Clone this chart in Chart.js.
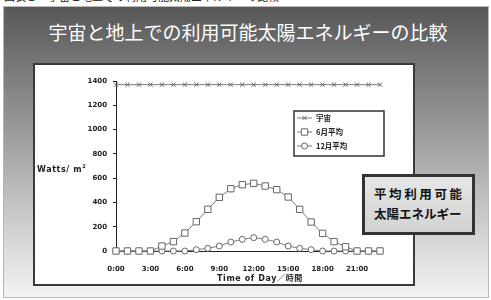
<!DOCTYPE html>
<html>
<head>
<meta charset="utf-8">
<script src="https://cdn.jsdelivr.net/npm/chart.js@4"></script>
<style>
  html, body { margin: 0; padding: 0; background: #fff; }
  body { width: 491px; height: 300px; position: relative; overflow: hidden; font-family: "Noto Sans CJK JP", sans-serif; }
  .caption { position: absolute; left: 0; top: 0; width: 491px; height: 6px; overflow: hidden; }
  .caption span { position: absolute; left: 4px; top: -12px; font-size: 11px; color: #222; white-space: nowrap; }
  .frame {
    position: absolute; left: 3px; top: 6px; width: 486px; height: 292px; box-sizing: border-box;
    border: 1px solid #b8b8b8;
    background: linear-gradient(#575757 0%, #747474 18%, #b0b0b0 56%, #dcdcdc 84%, #f3f3f3 100%);
  }
  .title { position: absolute; left: 0; top: 13px; width: 488px; text-align: center; color: #fff; font-size: 19px; line-height: 24px; }
  .panel { position: absolute; left: 33px; top: 63px; width: 382px; height: 223px; box-sizing: border-box; border: 2px solid #3a3a3a; background: #fff; }
  .chart-wrap { position: absolute; left: 35px; top: 65px; width: 378px; height: 219px; }
  .ylabel { position: absolute; left: 37px; top: 163px; font: bold 8px "DejaVu Sans", sans-serif; letter-spacing: 0.6px; color: #222; }
  .ylabel sup { font-size: 5px; vertical-align: 4px; }
  .xlabel { position: absolute; left: 217px; top: 272px; width: 82px; text-align: center; font: bold 8px "DejaVu Sans", "Noto Sans CJK JP", sans-serif; letter-spacing: 0.6px; color: #222; white-space: nowrap; }
  .note {
    position: absolute; left: 362px; top: 174px; width: 113px; height: 61px; box-sizing: border-box;
    border: 3px solid #333; background: linear-gradient(#e6e6e6, #d2d2d2);
    padding: 7px 0 0 9px; font-weight: bold; font-size: 12.5px; line-height: 20px; color: #111;
  }
  .note .l1 { letter-spacing: 2.6px; }
</style>
</head>
<body>
<div class="caption"><span>図表１　宇宙と地上での利用可能太陽エネルギーの比較</span></div>
<div class="frame"><div class="title">宇宙と地上での利用可能太陽エネルギーの比較</div></div>
<div class="panel"></div>
<div class="chart-wrap"><canvas id="solarChart"></canvas></div>
<div class="ylabel">Watts/ m<sup>2</sup></div>
<div class="xlabel">Time of Day／時間</div>
<div class="note"><div class="l1">平均利用可能</div><div>太陽エネルギー</div></div>

<script>
const hours = ['0:00', '1:00', '2:00', '3:00', '4:00', '5:00', '6:00', '7:00', '8:00', '9:00', '10:00', '11:00',
               '12:00', '13:00', '14:00', '15:00', '16:00', '17:00', '18:00', '19:00', '20:00', '21:00', '22:00', '23:00'];
const seriesNames = ['宇宙', '6月平均', '12月平均'];
const spaceValues = [1370, 1370, 1370, 1370, 1370, 1370, 1370, 1370, 1370, 1370, 1370, 1370,
                     1370, 1370, 1370, 1370, 1370, 1370, 1370, 1370, 1370, 1370, 1370, 1370];
const juneValues = [0, 0, 0, 0, 41, 77, 148, 241, 343, 442, 513, 546,
                    557, 535, 505, 445, 343, 239, 145, 77, 35, 0, 0, 0];
const decemberValues = [0, 0, 0, 0, 0, 0, 0, 11, 22, 41, 74, 96,
                        110, 96, 74, 41, 22, 11, 0, 0, 0, 0, 0, 0];
const yTicks = [0, 200, 400, 600, 800, 1000, 1200, 1400];

const lineColor = '#7a7a7a';
const markerColor = '#666';

function makeDataset(label, data, pointStyle, radius) {
    return {
        label: label,
        data: data,
        borderColor: lineColor,
        borderWidth: 1,
        pointStyle: pointStyle,
        pointRadius: radius,
        pointBackgroundColor: '#fff',
        pointBorderColor: markerColor,
        pointBorderWidth: 1,
        tension: 0,
        clip: false
    };
}

// legend drawn inside the plot, line + marker like the original
const boxLegend = {
    id: 'boxLegend',
    afterDraw(chart) {
        const ctx = chart.ctx;
        const area = chart.chartArea;
        const x = area.left + 178;
        const y = area.top + 30;
        ctx.save();
        ctx.strokeStyle = '#333';
        ctx.lineWidth = 1.5;
        ctx.fillStyle = '#fff';
        ctx.fillRect(x, y, 90, 45);
        ctx.strokeRect(x, y, 90, 45);
        chart.data.datasets.forEach((ds, i) => {
            const cy = y + 7 + i * 14;
            ctx.strokeStyle = lineColor;
            ctx.lineWidth = 1;
            ctx.beginPath();
            ctx.moveTo(x + 3, cy);
            ctx.lineTo(x + 18, cy);
            ctx.stroke();
            ctx.fillStyle = '#fff';
            ctx.strokeStyle = markerColor;
            Chart.helpers.drawPoint(ctx, {
                pointStyle: ds.pointStyle,
                radius: ds.pointRadius,
                rotation: 0,
                borderWidth: 1
            }, x + 10.5, cy);
            ctx.fillStyle = '#222';
            ctx.font = 'bold 7.5px "Noto Sans CJK JP"';
            ctx.textBaseline = 'middle';
            ctx.fillText(ds.label, x + 22, cy + 0.5);
        });
        ctx.restore();
    }
};

new Chart(document.getElementById('solarChart').getContext('2d'), {
    type: 'line',
    data: {
        labels: hours,
        datasets: [
            makeDataset(seriesNames[0], spaceValues, 'crossRot', 3),
            makeDataset(seriesNames[1], juneValues, 'rect', 4.5),
            makeDataset(seriesNames[2], decemberValues, 'circle', 3)
        ]
    },
    options: {
        responsive: true,
        maintainAspectRatio: false,
        animation: false,
        layout: { padding: { left: 0, right: 33, top: 16, bottom: 0 } },
        plugins: {
            legend: { display: false },
            tooltip: { enabled: false }
        },
        scales: {
            x: {
                offset: false,
                grid: { display: false },
                border: { display: true, color: '#222', width: 1 },
                ticks: {
                    autoSkip: false,
                    maxRotation: 0,
                    padding: 6,
                    color: '#222',
                    font: { family: 'DejaVu Sans', weight: 'bold', size: 7 },
                    callback: function(value, index) {
                        return index % 3 === 0 ? hours[index] : '';
                    }
                },
                afterFit: function(scale) { scale.height = 33; }
            },
            y: {
                min: 0,
                max: 1400,
                afterBuildTicks: function(scale) {
                    scale.ticks = yTicks.map(v => ({ value: v }));
                },
                grid: { display: true, drawOnChartArea: false, drawTicks: true, tickLength: 3, color: '#222' },
                border: { display: true, color: '#222', width: 1 },
                ticks: {
                    padding: 6,
                    color: '#222',
                    font: { family: 'DejaVu Sans', weight: 'bold', size: 7 },
                    callback: function(value) { return String(value); }
                },
                afterFit: function(scale) { scale.width = 81; }
            }
        }
    },
    plugins: [boxLegend]
});
</script>
</body>
</html>
